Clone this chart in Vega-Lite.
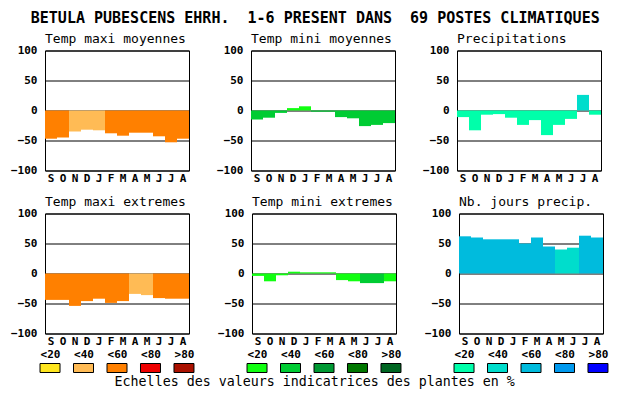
{
  "$schema": "https://vega.github.io/schema/vega-lite/v6.json",
  "background": "white",
  "padding": {"left": 10, "top": 10.5, "right": 0, "bottom": 0},
  "title": {
    "text": "BETULA PUBESCENS EHRH.\u00a0 1-6 PRESENT DANS\u00a0 69 POSTES CLIMATIQUES",
    "font": "DejaVu Sans Mono",
    "fontSize": 15,
    "fontWeight": "bold",
    "anchor": "middle",
    "frame": "bounds",
    "dx": 6,
    "offset": -6,
    "baseline": "alphabetic",
    "color": "black"
  },
  "datasets": {
    "bars": [
      {"panel": "tmax_moy", "mois": "Sep", "valeur": -47, "classe": "<60"},
      {"panel": "tmax_moy", "mois": "Oct", "valeur": -45, "classe": "<60"},
      {"panel": "tmax_moy", "mois": "Nov", "valeur": -35, "classe": "<40"},
      {"panel": "tmax_moy", "mois": "Dec", "valeur": -32, "classe": "<40"},
      {"panel": "tmax_moy", "mois": "Jan", "valeur": -33, "classe": "<40"},
      {"panel": "tmax_moy", "mois": "Feb", "valeur": -38, "classe": "<60"},
      {"panel": "tmax_moy", "mois": "Mar", "valeur": -42, "classe": "<60"},
      {"panel": "tmax_moy", "mois": "Apr", "valeur": -37, "classe": "<60"},
      {"panel": "tmax_moy", "mois": "May", "valeur": -37, "classe": "<60"},
      {"panel": "tmax_moy", "mois": "Jun", "valeur": -43, "classe": "<60"},
      {"panel": "tmax_moy", "mois": "Jul", "valeur": -53, "classe": "<60"},
      {"panel": "tmax_moy", "mois": "Aug", "valeur": -47, "classe": "<60"},

      {"panel": "tmin_moy", "mois": "Sep", "valeur": -15, "classe": "<40"},
      {"panel": "tmin_moy", "mois": "Oct", "valeur": -12, "classe": "<40"},
      {"panel": "tmin_moy", "mois": "Nov", "valeur": -4, "classe": "<40"},
      {"panel": "tmin_moy", "mois": "Dec", "valeur": 4, "classe": "<20"},
      {"panel": "tmin_moy", "mois": "Jan", "valeur": 7, "classe": "<20"},
      {"panel": "tmin_moy", "mois": "Feb", "valeur": -2, "classe": "<40"},
      {"panel": "tmin_moy", "mois": "Mar", "valeur": -2, "classe": "<40"},
      {"panel": "tmin_moy", "mois": "Apr", "valeur": -11, "classe": "<40"},
      {"panel": "tmin_moy", "mois": "May", "valeur": -13, "classe": "<40"},
      {"panel": "tmin_moy", "mois": "Jun", "valeur": -26, "classe": "<40"},
      {"panel": "tmin_moy", "mois": "Jul", "valeur": -24, "classe": "<40"},
      {"panel": "tmin_moy", "mois": "Aug", "valeur": -21, "classe": "<40"},

      {"panel": "precip", "mois": "Sep", "valeur": -11, "classe": "<20"},
      {"panel": "precip", "mois": "Oct", "valeur": -33, "classe": "<20"},
      {"panel": "precip", "mois": "Nov", "valeur": -7, "classe": "<20"},
      {"panel": "precip", "mois": "Dec", "valeur": -6, "classe": "<20"},
      {"panel": "precip", "mois": "Jan", "valeur": -12, "classe": "<20"},
      {"panel": "precip", "mois": "Feb", "valeur": -24, "classe": "<20"},
      {"panel": "precip", "mois": "Mar", "valeur": -16, "classe": "<20"},
      {"panel": "precip", "mois": "Apr", "valeur": -41, "classe": "<20"},
      {"panel": "precip", "mois": "May", "valeur": -24, "classe": "<20"},
      {"panel": "precip", "mois": "Jun", "valeur": -14, "classe": "<20"},
      {"panel": "precip", "mois": "Jul", "valeur": 26, "classe": "<40"},
      {"panel": "precip", "mois": "Aug", "valeur": -7, "classe": "<20"},

      {"panel": "tmax_ext", "mois": "Sep", "valeur": -44, "classe": "<60"},
      {"panel": "tmax_ext", "mois": "Oct", "valeur": -44, "classe": "<60"},
      {"panel": "tmax_ext", "mois": "Nov", "valeur": -54, "classe": "<60"},
      {"panel": "tmax_ext", "mois": "Dec", "valeur": -46, "classe": "<60"},
      {"panel": "tmax_ext", "mois": "Jan", "valeur": -42, "classe": "<60"},
      {"panel": "tmax_ext", "mois": "Feb", "valeur": -49, "classe": "<60"},
      {"panel": "tmax_ext", "mois": "Mar", "valeur": -46, "classe": "<60"},
      {"panel": "tmax_ext", "mois": "Apr", "valeur": -34, "classe": "<40"},
      {"panel": "tmax_ext", "mois": "May", "valeur": -36, "classe": "<40"},
      {"panel": "tmax_ext", "mois": "Jun", "valeur": -41, "classe": "<60"},
      {"panel": "tmax_ext", "mois": "Jul", "valeur": -42, "classe": "<60"},
      {"panel": "tmax_ext", "mois": "Aug", "valeur": -42, "classe": "<60"},

      {"panel": "tmin_ext", "mois": "Sep", "valeur": -4, "classe": "<20"},
      {"panel": "tmin_ext", "mois": "Oct", "valeur": -13, "classe": "<20"},
      {"panel": "tmin_ext", "mois": "Nov", "valeur": -3, "classe": "<20"},
      {"panel": "tmin_ext", "mois": "Dec", "valeur": 3, "classe": "<20"},
      {"panel": "tmin_ext", "mois": "Jan", "valeur": 2, "classe": "<20"},
      {"panel": "tmin_ext", "mois": "Feb", "valeur": 2, "classe": "<20"},
      {"panel": "tmin_ext", "mois": "Mar", "valeur": 2, "classe": "<20"},
      {"panel": "tmin_ext", "mois": "Apr", "valeur": -11, "classe": "<20"},
      {"panel": "tmin_ext", "mois": "May", "valeur": -13, "classe": "<20"},
      {"panel": "tmin_ext", "mois": "Jun", "valeur": -16, "classe": "<40"},
      {"panel": "tmin_ext", "mois": "Jul", "valeur": -16, "classe": "<40"},
      {"panel": "tmin_ext", "mois": "Aug", "valeur": -13, "classe": "<20"},

      {"panel": "njours", "mois": "Sep", "valeur": 62, "classe": "<60"},
      {"panel": "njours", "mois": "Oct", "valeur": 60, "classe": "<60"},
      {"panel": "njours", "mois": "Nov", "valeur": 57, "classe": "<60"},
      {"panel": "njours", "mois": "Dec", "valeur": 57, "classe": "<60"},
      {"panel": "njours", "mois": "Jan", "valeur": 57, "classe": "<60"},
      {"panel": "njours", "mois": "Feb", "valeur": 50, "classe": "<60"},
      {"panel": "njours", "mois": "Mar", "valeur": 60, "classe": "<60"},
      {"panel": "njours", "mois": "Apr", "valeur": 45, "classe": "<60"},
      {"panel": "njours", "mois": "May", "valeur": 40, "classe": "<40"},
      {"panel": "njours", "mois": "Jun", "valeur": 43, "classe": "<40"},
      {"panel": "njours", "mois": "Jul", "valeur": 63, "classe": "<60"},
      {"panel": "njours", "mois": "Aug", "valeur": 60, "classe": "<60"}
    ],
    "leg": [
      {"palette": "orange", "classe": "<20"},
      {"palette": "orange", "classe": "<40"},
      {"palette": "orange", "classe": "<60"},
      {"palette": "orange", "classe": "<80"},
      {"palette": "orange", "classe": ">80"},
      {"palette": "vert", "classe": "<20"},
      {"palette": "vert", "classe": "<40"},
      {"palette": "vert", "classe": "<60"},
      {"palette": "vert", "classe": "<80"},
      {"palette": "vert", "classe": ">80"},
      {"palette": "bleu", "classe": "<20"},
      {"palette": "bleu", "classe": "<40"},
      {"palette": "bleu", "classe": "<60"},
      {"palette": "bleu", "classe": "<80"},
      {"palette": "bleu", "classe": ">80"}
    ]
  },
  "spacing": 10,
  "resolve": {"scale": {"color": "independent", "x": "independent", "y": "independent"}},
  "vconcat": [
    {
      "bounds": "flush",
      "spacing": 62,
      "resolve": {"scale": {"color": "independent", "x": "independent", "y": "independent"}},
      "hconcat": [
        {
          "width": 144, "height": 120,
          "title": "Temp maxi moyennes",
          "data": {"name": "bars"},
          "transform": [{"filter": "datum.panel === 'tmax_moy'"}],
          "mark": {"type": "bar"},
          "encoding": {
            "x": {"field": "mois", "type": "ordinal", "title": null,
                  "scale": {"domain": ["Sep","Oct","Nov","Dec","Jan","Feb","Mar","Apr","May","Jun","Jul","Aug"], "paddingInner": 0, "paddingOuter": 0},
                  "axis": {"labelExpr": "substring(datum.label,0,1)"}},
            "y": {"field": "valeur", "type": "quantitative", "title": null,
                  "scale": {"domain": [-100, 100], "nice": false, "zero": true}},
            "color": {"field": "classe", "type": "nominal", "legend": null,
                      "scale": {"domain": ["<20","<40","<60","<80",">80"], "range": ["#FFE61E","#FFBB55","#FF8000","#EE0000","#AA1100"]}}
          }
        },
        {
          "width": 144, "height": 120,
          "title": "Temp mini moyennes",
          "data": {"name": "bars"},
          "transform": [{"filter": "datum.panel === 'tmin_moy'"}],
          "mark": {"type": "bar"},
          "encoding": {
            "x": {"field": "mois", "type": "ordinal", "title": null,
                  "scale": {"domain": ["Sep","Oct","Nov","Dec","Jan","Feb","Mar","Apr","May","Jun","Jul","Aug"], "paddingInner": 0, "paddingOuter": 0},
                  "axis": {"labelExpr": "substring(datum.label,0,1)"}},
            "y": {"field": "valeur", "type": "quantitative", "title": null,
                  "scale": {"domain": [-100, 100], "nice": false, "zero": true}},
            "color": {"field": "classe", "type": "nominal", "legend": null,
                      "scale": {"domain": ["<20","<40","<60","<80",">80"], "range": ["#11FF11","#00CC33","#009933","#007700","#006622"]}}
          }
        },
        {
          "width": 144, "height": 120,
          "title": "Precipitations",
          "data": {"name": "bars"},
          "transform": [{"filter": "datum.panel === 'precip'"}],
          "mark": {"type": "bar"},
          "encoding": {
            "x": {"field": "mois", "type": "ordinal", "title": null,
                  "scale": {"domain": ["Sep","Oct","Nov","Dec","Jan","Feb","Mar","Apr","May","Jun","Jul","Aug"], "paddingInner": 0, "paddingOuter": 0},
                  "axis": {"labelExpr": "substring(datum.label,0,1)"}},
            "y": {"field": "valeur", "type": "quantitative", "title": null,
                  "scale": {"domain": [-100, 100], "nice": false, "zero": true}},
            "color": {"field": "classe", "type": "nominal", "legend": null,
                      "scale": {"domain": ["<20","<40","<60","<80",">80"], "range": ["#00FFAA","#00DDCC","#00BBDD","#0099EE","#0000FF"]}}
          }
        }
      ]
    },
    {
      "spacing": 22,
      "resolve": {"scale": {"color": "independent", "x": "independent", "y": "independent"}},
      "title": {
        "text": "Echelles des valeurs indicatrices des plantes en %",
        "orient": "bottom",
        "anchor": "middle",
        "frame": "bounds",
        "dx": 5.5,
        "offset": 13,
        "fontSize": 13.3,
        "baseline": "alphabetic"
      },
      "hconcat": [
        {
          "bounds": "flush",
          "spacing": 30,
          "resolve": {"scale": {"color": "independent", "x": "independent", "y": "independent"}},
          "vconcat": [
            {
              "width": 144, "height": 120,
              "title": "Temp maxi extremes",
              "data": {"name": "bars"},
              "transform": [{"filter": "datum.panel === 'tmax_ext'"}],
              "mark": {"type": "bar"},
              "encoding": {
                "x": {"field": "mois", "type": "ordinal", "title": null,
                      "scale": {"domain": ["Sep","Oct","Nov","Dec","Jan","Feb","Mar","Apr","May","Jun","Jul","Aug"], "paddingInner": 0, "paddingOuter": 0},
                      "axis": {"labelExpr": "substring(datum.label,0,1)"}},
                "y": {"field": "valeur", "type": "quantitative", "title": null,
                      "scale": {"domain": [-100, 100], "nice": false, "zero": true}},
                "color": {"field": "classe", "type": "nominal", "legend": null,
                          "scale": {"domain": ["<20","<40","<60","<80",">80"], "range": ["#FFE61E","#FFBB55","#FF8000","#EE0000","#AA1100"]}}
              }
            },
            {
              "width": 144, "height": 9,
              "view": {"stroke": null},
              "data": {"name": "leg"},
              "transform": [{"filter": "datum.palette === 'orange'"}],
              "mark": {"type": "bar", "width": 20, "stroke": "black", "strokeWidth": 1},
              "encoding": {
                "x": {"field": "classe", "type": "ordinal", "title": null,
                      "scale": {"type": "point", "domain": ["<20","<40","<60","<80",">80"], "padding": 0.15},
                      "axis": {"orient": "top", "grid": false, "labelPadding": 6, "labelBaseline": "alphabetic"}},
                "color": {"field": "classe", "type": "nominal", "legend": null,
                          "scale": {"domain": ["<20","<40","<60","<80",">80"], "range": ["#FFE61E","#FFBB55","#FF8000","#EE0000","#AA1100"]}}
              }
            }
          ]
        },
        {
          "bounds": "flush",
          "spacing": 30,
          "resolve": {"scale": {"color": "independent", "x": "independent", "y": "independent"}},
          "vconcat": [
            {
              "width": 144, "height": 120,
              "title": "Temp mini extremes",
              "data": {"name": "bars"},
              "transform": [{"filter": "datum.panel === 'tmin_ext'"}],
              "mark": {"type": "bar"},
              "encoding": {
                "x": {"field": "mois", "type": "ordinal", "title": null,
                      "scale": {"domain": ["Sep","Oct","Nov","Dec","Jan","Feb","Mar","Apr","May","Jun","Jul","Aug"], "paddingInner": 0, "paddingOuter": 0},
                      "axis": {"labelExpr": "substring(datum.label,0,1)"}},
                "y": {"field": "valeur", "type": "quantitative", "title": null,
                      "scale": {"domain": [-100, 100], "nice": false, "zero": true}},
                "color": {"field": "classe", "type": "nominal", "legend": null,
                          "scale": {"domain": ["<20","<40","<60","<80",">80"], "range": ["#11FF11","#00CC33","#009933","#007700","#006622"]}}
              }
            },
            {
              "width": 144, "height": 9,
              "view": {"stroke": null},
              "data": {"name": "leg"},
              "transform": [{"filter": "datum.palette === 'vert'"}],
              "mark": {"type": "bar", "width": 20, "stroke": "black", "strokeWidth": 1},
              "encoding": {
                "x": {"field": "classe", "type": "ordinal", "title": null,
                      "scale": {"type": "point", "domain": ["<20","<40","<60","<80",">80"], "padding": 0.15},
                      "axis": {"orient": "top", "grid": false, "labelPadding": 6, "labelBaseline": "alphabetic"}},
                "color": {"field": "classe", "type": "nominal", "legend": null,
                          "scale": {"domain": ["<20","<40","<60","<80",">80"], "range": ["#11FF11","#00CC33","#009933","#007700","#006622"]}}
              }
            }
          ]
        },
        {
          "bounds": "flush",
          "spacing": 30,
          "resolve": {"scale": {"color": "independent", "x": "independent", "y": "independent"}},
          "vconcat": [
            {
              "width": 144, "height": 120,
              "title": "Nb. jours precip.",
              "data": {"name": "bars"},
              "transform": [{"filter": "datum.panel === 'njours'"}],
              "mark": {"type": "bar"},
              "encoding": {
                "x": {"field": "mois", "type": "ordinal", "title": null,
                      "scale": {"domain": ["Sep","Oct","Nov","Dec","Jan","Feb","Mar","Apr","May","Jun","Jul","Aug"], "paddingInner": 0, "paddingOuter": 0},
                      "axis": {"labelExpr": "substring(datum.label,0,1)"}},
                "y": {"field": "valeur", "type": "quantitative", "title": null,
                      "scale": {"domain": [-100, 100], "nice": false, "zero": true}},
                "color": {"field": "classe", "type": "nominal", "legend": null,
                          "scale": {"domain": ["<20","<40","<60","<80",">80"], "range": ["#00FFAA","#00DDCC","#00BBDD","#0099EE","#0000FF"]}}
              }
            },
            {
              "width": 144, "height": 9,
              "view": {"stroke": null},
              "data": {"name": "leg"},
              "transform": [{"filter": "datum.palette === 'bleu'"}],
              "mark": {"type": "bar", "width": 20, "stroke": "black", "strokeWidth": 1},
              "encoding": {
                "x": {"field": "classe", "type": "ordinal", "title": null,
                      "scale": {"type": "point", "domain": ["<20","<40","<60","<80",">80"], "padding": 0.15},
                      "axis": {"orient": "top", "grid": false, "labelPadding": 6, "labelBaseline": "alphabetic"}},
                "color": {"field": "classe", "type": "nominal", "legend": null,
                          "scale": {"domain": ["<20","<40","<60","<80",">80"], "range": ["#00FFAA","#00DDCC","#00BBDD","#0099EE","#0000FF"]}}
              }
            }
          ]
        }
      ]
    }
  ],
  "config": {
    "view": {"stroke": "black", "strokeWidth": 1},
    "font": "DejaVu Sans Mono",
    "bar": {"strokeWidth": 0},
    "axis": {
      "labelFont": "DejaVu Sans Mono",
      "labelFontWeight": "bold",
      "labelFontSize": 11,
      "labelColor": "black",
      "domain": false,
      "ticks": false,
      "tickSize": 0
    },
    "axisX": {"labelAngle": 0, "labelPadding": 11, "labelBaseline": "alphabetic", "grid": false},
    "axisY": {
      "values": [-100, -50, 0, 50, 100],
      "grid": true,
      "gridColor": "black",
      "gridOpacity": 1,
      "gridWidth": 1,
      "labelPadding": 8,
      "labelFlush": false,
      "labelOverlap": false,
      "zindex": 1
    },
    "title": {
      "font": "DejaVu Sans Mono",
      "fontSize": 13,
      "fontWeight": "normal",
      "color": "black",
      "anchor": "start",
      "frame": "group",
      "baseline": "alphabetic",
      "offset": -1
    }
  }
}
